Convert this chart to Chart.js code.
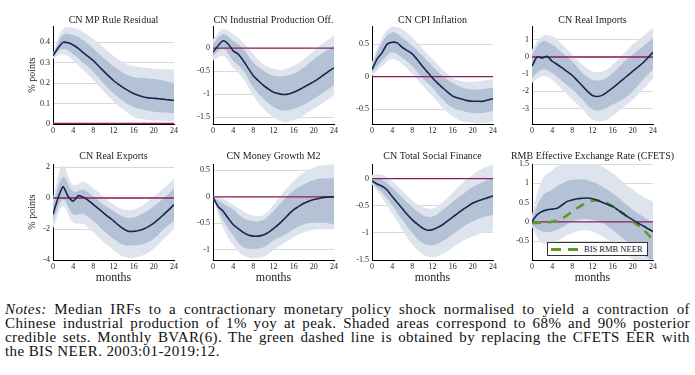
<!DOCTYPE html>
<html>
<head>
<meta charset="utf-8">
<script src="https://cdn.jsdelivr.net/npm/chart.js@4.4.1/dist/chart.umd.min.js"></script>
<style>
  html, body { margin: 0; padding: 0; background: #fff; }
  body { width: 695px; height: 375px; position: relative; overflow: hidden; }
  canvas { position: absolute; }
  #notes { position: absolute; left: 5px; top: 302px; width: 685px; font-family: 'Liberation Serif', serif; font-size: 15px; letter-spacing: 0.4px; line-height: 14px; color: #111; }
  #notes div { text-align: justify; text-align-last: justify; white-space: nowrap; }
  #notes div.last { text-align-last: left; }
  #legend { position: absolute; left: 547px; top: 242px; width: 101px; height: 14px; box-sizing: border-box; border: 1px solid #333; background: #fff; }
  #legend .dash { position: absolute; top: 5px; height: 3px; width: 10px; background: #5c9a24; }
  #legend .lbl { position: absolute; left: 36px; top: 1px; font-family: 'Liberation Serif', serif; font-size: 8.5px; line-height: 10px; color: #222; }
</style>
</head>
<body>
<canvas id="p1"></canvas>
<canvas id="p2"></canvas>
<canvas id="p3"></canvas>
<canvas id="p4"></canvas>
<canvas id="p5"></canvas>
<canvas id="p6"></canvas>
<canvas id="p7"></canvas>
<canvas id="p8"></canvas>
<div id="legend"><span class="dash" style="left:3px"></span><span class="dash" style="left:20px"></span><span class="lbl">BIS RMB NEER</span></div>
<div id="notes">
  <div><i>Notes:</i> Median IRFs to a contractionary monetary policy shock normalised to yield a contraction of</div>
  <div>Chinese industrial production of 1% yoy at peak. Shaded areas correspond to 68% and 90% posterior</div>
  <div>credible sets. Monthly BVAR(6). The green dashed line is obtained by replacing the CFETS EER with</div>
  <div class="last">the BIS NEER. 2003:01-2019:12.</div>
</div>
<script>
const months = [0, 1, 2, 3, 4, 5, 6, 7, 8, 9, 10, 11, 12, 13, 14, 15, 16, 17, 18, 19, 20, 21, 22, 23, 24];
const bandMonths = [0, 2, 4, 6, 8, 10, 12, 14, 16, 18, 20, 22, 24];

// CN MP Rule Residual
const mpMed = [0.334, 0.372, 0.40, 0.398, 0.387, 0.37, 0.35, 0.33, 0.31, 0.285, 0.26, 0.236, 0.213, 0.194, 0.177, 0.162, 0.149, 0.14, 0.132, 0.128, 0.126, 0.124, 0.121, 0.118, 0.116];
const mpHi90 = [0.345, 0.466, 0.47, 0.45, 0.416, 0.375, 0.334, 0.30, 0.284, 0.276, 0.271, 0.268, 0.27];
const mpHi68 = [0.34, 0.436, 0.436, 0.41, 0.37, 0.325, 0.284, 0.25, 0.23, 0.225, 0.22, 0.212, 0.20];
const mpLo68 = [0.33, 0.367, 0.342, 0.30, 0.255, 0.20, 0.152, 0.11, 0.083, 0.07, 0.06, 0.056, 0.053];
const mpLo90 = [0.32, 0.342, 0.31, 0.264, 0.215, 0.16, 0.11, 0.07, 0.036, 0.023, 0.017, 0.015, 0.012];

// CN Industrial Production Off.
const ipMed = [-0.09, 0.05, 0.16, 0.09, -0.06, -0.13, -0.27, -0.44, -0.6, -0.71, -0.81, -0.89, -0.96, -0.99, -1.01, -1.0, -0.96, -0.91, -0.85, -0.79, -0.73, -0.66, -0.58, -0.5, -0.43];
const ipHi90 = [0.19, 0.41, 0.30, 0.12, -0.13, -0.35, -0.45, -0.47, -0.38, -0.24, -0.06, 0.12, 0.27];
const ipHi68 = [0.09, 0.30, 0.16, -0.02, -0.31, -0.49, -0.60, -0.61, -0.56, -0.42, -0.24, -0.09, 0.05];
const ipLo68 = [-0.17, -0.02, -0.27, -0.49, -0.85, -1.10, -1.28, -1.36, -1.32, -1.23, -1.10, -0.96, -0.81];
const ipLo90 = [-0.27, -0.17, -0.42, -0.67, -1.03, -1.32, -1.50, -1.61, -1.57, -1.46, -1.32, -1.18, -1.03];

// CN CPI Inflation
const cpiMed = [0.11, 0.27, 0.37, 0.5, 0.53, 0.52, 0.45, 0.4, 0.35, 0.26, 0.16, 0.07, -0.02, -0.1, -0.17, -0.24, -0.3, -0.33, -0.35, -0.37, -0.38, -0.38, -0.38, -0.36, -0.34];
const cpiHi90 = [0.22, 0.60, 0.77, 0.73, 0.60, 0.43, 0.27, 0.11, -0.02, -0.07, -0.08, -0.06, -0.04];
const cpiHi68 = [0.16, 0.53, 0.68, 0.60, 0.47, 0.32, 0.16, 0.01, -0.10, -0.17, -0.20, -0.19, -0.17];
const cpiLo68 = [0.06, 0.24, 0.37, 0.29, 0.16, -0.02, -0.17, -0.35, -0.48, -0.53, -0.56, -0.56, -0.53];
const cpiLo90 = [0.01, 0.16, 0.27, 0.19, 0.04, -0.14, -0.30, -0.48, -0.61, -0.69, -0.71, -0.72, -0.69];

// CN Real Imports
const impMed = [-0.54, 0.0, -0.06, 0.04, -0.25, -0.44, -0.64, -0.86, -1.08, -1.38, -1.68, -2.0, -2.24, -2.3, -2.22, -2.02, -1.8, -1.56, -1.32, -1.07, -0.83, -0.59, -0.35, -0.05, 0.27];
const impHi90 = [0.43, 1.2, 1.2, 0.72, 0.14, -0.44, -0.83, -0.83, -0.44, 0.14, 0.72, 1.2, 1.68];
const impHi68 = [0.14, 0.9, 0.72, 0.23, -0.25, -0.93, -1.32, -1.32, -0.93, -0.35, 0.14, 0.62, 1.1];
const impLo68 = [-1.22, -0.74, -0.93, -1.41, -1.9, -2.48, -3.06, -3.06, -2.77, -2.48, -1.99, -1.32, -0.75];
const impLo90 = [-1.5, -1.12, -1.32, -1.9, -2.48, -3.06, -3.64, -3.73, -3.44, -2.96, -2.48, -1.9, -1.25];

// CN Real Exports
const expMed = [-1.05, 0.0, 0.74, 0.1, -0.21, 0.15, 0.06, -0.15, -0.42, -0.68, -0.95, -1.22, -1.47, -1.75, -2.0, -2.15, -2.15, -2.1, -2.0, -1.83, -1.62, -1.35, -1.05, -0.75, -0.42];
const expHi90 = [0.0, 2.1, 0.84, 1.05, 0.63, 0.1, -0.42, -0.74, -0.74, -0.42, 0.1, 0.63, 1.26];
const expHi68 = [-0.42, 1.37, 0.42, 0.53, 0.1, -0.42, -0.84, -1.2, -1.26, -0.95, -0.53, 0.0, 0.63];
const expLo68 = [-1.47, -0.1, -1.05, -1.05, -1.47, -2.1, -2.63, -3.01, -3.05, -2.95, -2.63, -2.0, -1.47];
const expLo90 = [-1.96, -0.53, -1.58, -1.68, -2.21, -2.84, -3.37, -3.79, -3.85, -3.68, -3.26, -2.63, -2.0];

// CN Money Growth M2
const m2Med = [-0.01, -0.18, -0.27, -0.4, -0.52, -0.6, -0.67, -0.72, -0.74, -0.74, -0.72, -0.67, -0.6, -0.52, -0.43, -0.33, -0.24, -0.18, -0.12, -0.08, -0.05, -0.03, -0.01, 0.0, 0.0];
const m2Hi90 = [0.01, -0.03, -0.15, -0.27, -0.35, -0.34, -0.15, 0.09, 0.30, 0.46, 0.55, 0.60, 0.61];
const m2Hi68 = [0.0, -0.12, -0.24, -0.40, -0.46, -0.43, -0.27, -0.06, 0.12, 0.24, 0.32, 0.35, 0.35];
const m2Lo68 = [-0.01, -0.43, -0.73, -0.95, -0.98, -0.95, -0.82, -0.73, -0.61, -0.52, -0.49, -0.49, -0.52];
const m2Lo90 = [-0.02, -0.58, -0.91, -1.10, -1.16, -1.13, -1.0, -0.88, -0.76, -0.67, -0.62, -0.61, -0.61];

// CN Total Social Finance
const tsfMed = [-0.04, -0.1, -0.14, -0.21, -0.33, -0.44, -0.55, -0.66, -0.76, -0.84, -0.91, -0.95, -0.94, -0.9, -0.85, -0.78, -0.71, -0.64, -0.57, -0.51, -0.45, -0.41, -0.38, -0.35, -0.32];
const tsfHi90 = [0.07, 0.07, -0.05, -0.23, -0.40, -0.52, -0.55, -0.43, -0.26, -0.08, 0.07, 0.19, 0.26];
const tsfHi68 = [0.01, -0.02, -0.17, -0.35, -0.52, -0.67, -0.70, -0.58, -0.43, -0.29, -0.15, -0.06, 0.01];
const tsfLo68 = [-0.08, -0.26, -0.49, -0.76, -1.0, -1.18, -1.23, -1.15, -1.03, -0.89, -0.79, -0.71, -0.67];
const tsfLo90 = [-0.11, -0.35, -0.64, -0.94, -1.21, -1.39, -1.45, -1.39, -1.27, -1.15, -1.06, -1.0, -0.97];

// RMB Effective Exchange Rate (CFETS)
const eerMed = [0.01, 0.18, 0.27, 0.31, 0.33, 0.35, 0.44, 0.53, 0.57, 0.6, 0.61, 0.62, 0.6, 0.56, 0.5, 0.45, 0.4, 0.31, 0.22, 0.13, 0.05, -0.03, -0.1, -0.18, -0.25];
const eerHi90 = [0.18, 1.09, 1.34, 1.52, 1.59, 1.6, 1.56, 1.43, 1.26, 1.04, 0.83, 0.66, 0.53];
const eerHi68 = [0.09, 0.66, 0.83, 1.0, 1.09, 1.1, 1.04, 0.91, 0.74, 0.53, 0.31, 0.14, -0.03];
const eerLo68 = [-0.08, -0.25, -0.25, -0.14, 0.01, 0.07, 0.05, -0.03, -0.21, -0.42, -0.64, -0.85, -1.03];
const eerLo90 = [-0.14, -0.55, -0.55, -0.42, -0.29, -0.22, -0.25, -0.38, -0.55, -0.77, -0.98, -1.16, -1.33];
const bisNeer = [-0.03, -0.02, 0.0, 0.09, 0.27, 0.44, 0.55, 0.53, 0.4, 0.22, 0.01, -0.19, -0.47];

const xTicks = [0, 4, 8, 12, 16, 20, 24];

const OUTER = "#dee4ed";
const INNER = "#b5c2d6";
const NAVY = "#16264d";
const ZERO = "#8c1d5e";
const GREEN = "#5c9a24";

Chart.defaults.font.family = "'Liberation Serif', serif";
Chart.defaults.color = "#222";

const pts = (xs, ys) => ys.map((y, i) => ({ x: xs[i], y: y }));

const panels = [
  { id: "p1", title: "CN MP Rule Residual", med: mpMed, hi90: mpHi90, hi68: mpHi68, lo68: mpLo68, lo90: mpLo90,
    yMin: 0, yMax: 0.48, yTicks: [0, 0.1, 0.2, 0.3, 0.4], left: 53, top: 26, h: 98, row: 1, ylabel: true, zeroW: 2.5 },
  { id: "p2", title: "CN Industrial Production Off.", med: ipMed, hi90: ipHi90, hi68: ipHi68, lo68: ipLo68, lo90: ipLo90,
    yMin: -1.65, yMax: 0.48, yTicks: [-1.5, -1, -0.5, 0], left: 213, top: 26, h: 98, row: 1 },
  { id: "p3", title: "CN CPI Inflation", med: cpiMed, hi90: cpiHi90, hi68: cpiHi68, lo68: cpiLo68, lo90: cpiLo90,
    yMin: -0.73, yMax: 0.78, yTicks: [-0.5, 0, 0.5], left: 372, top: 26, h: 98, row: 1 },
  { id: "p4", title: "CN Real Imports", med: impMed, hi90: impHi90, hi68: impHi68, lo68: impLo68, lo90: impLo90,
    yMin: -3.9, yMax: 1.8, yTicks: [-3, -2, -1, 0, 1], left: 532, top: 26, h: 98, row: 1 },
  { id: "p5", title: "CN Real Exports", med: expMed, hi90: expHi90, hi68: expHi68, lo68: expLo68, lo90: expLo90,
    yMin: -4, yMax: 2.2, yTicks: [-4, -2, 0, 2], left: 53, top: 164, h: 96, row: 2, ylabel: true },
  { id: "p6", title: "CN Money Growth M2", med: m2Med, hi90: m2Hi90, hi68: m2Hi68, lo68: m2Lo68, lo90: m2Lo90,
    yMin: -1.19, yMax: 0.62, yTicks: [-1, -0.5, 0, 0.5], left: 213, top: 164, h: 96, row: 2 },
  { id: "p7", title: "CN Total Social Finance", med: tsfMed, hi90: tsfHi90, hi68: tsfHi68, lo68: tsfLo68, lo90: tsfLo90,
    yMin: -1.5, yMax: 0.27, yTicks: [-1.5, -1, -0.5, 0], left: 372, top: 164, h: 96, row: 2 },
  { id: "p8", title: "RMB Effective Exchange Rate (CFETS)", med: eerMed, hi90: eerHi90, hi68: eerHi68, lo68: eerLo68, lo90: eerLo90,
    yMin: -0.99, yMax: 1.5, yTicks: [-0.5, 0, 0.5, 1, 1.5], left: 532, top: 164, h: 96, row: 2, extra: bisNeer }
];

const SIDE = 45, PLOTW = 121, HEAD = 26;

function drawPanel(p) {
  const xH = p.row === 2 ? 26 : 18;
  const canvas = document.getElementById(p.id);
  canvas.width = SIDE * 2 + PLOTW;
  canvas.height = HEAD + p.h + xH;
  canvas.style.left = (p.left - SIDE) + "px";
  canvas.style.top = (p.top - HEAD) + "px";

  const band = { pointRadius: 0, borderWidth: 0, tension: 0.4 };
  const datasets = [
    { data: pts(months, p.med), borderColor: NAVY, borderWidth: 1.6, pointRadius: 0, tension: 0.2, fill: false, order: 0 }
  ];
  if (p.extra) {
    datasets.push({ data: pts(bandMonths, p.extra), borderColor: GREEN, borderWidth: 2.6, borderDash: [9, 7],
      pointRadius: 0, tension: 0.3, fill: false, order: 0 });
  }
  datasets.push({ data: pts([0, 24], [0, 0]), borderColor: ZERO, borderWidth: p.zeroW || 1.4, pointRadius: 0, fill: false, order: 1 });
  datasets.push(Object.assign({ data: pts(bandMonths, p.hi68), backgroundColor: INNER, fill: "+1", order: 2 }, band));
  datasets.push(Object.assign({ data: pts(bandMonths, p.lo68), fill: false, order: 2 }, band));
  datasets.push(Object.assign({ data: pts(bandMonths, p.hi90), backgroundColor: OUTER, fill: "+1", order: 3 }, band));
  datasets.push(Object.assign({ data: pts(bandMonths, p.lo90), fill: false, order: 3 }, band));

  new Chart(canvas, {
    type: "line",
    data: { datasets: datasets },
    options: {
      responsive: false,
      animation: false,
      devicePixelRatio: 1,
      events: [],
      layout: { padding: 0 },
      plugins: {
        legend: { display: false },
        tooltip: { enabled: false },
        title: {
          display: true,
          text: p.title,
          font: { size: 10, weight: "normal" },
          color: "#222",
          padding: p.row === 2 ? { top: 12, bottom: 2 } : { top: 14, bottom: 0 }
        }
      },
      scales: {
        x: {
          type: "linear",
          min: 0,
          max: 24,
          afterBuildTicks: (s) => { s.ticks = xTicks.map((v) => ({ value: v })); },
          ticks: { font: { size: 8 }, padding: 2, maxRotation: 0 },
          grid: { display: false, drawTicks: false },
          border: { color: "#000", width: 1 },
          title: { display: p.row === 2, text: "months", font: { size: 12 }, padding: { top: 0, bottom: 1 } },
          afterFit: (s) => { s.height = xH; }
        },
        y: {
          position: "left",
          min: p.yMin,
          max: p.yMax,
          afterBuildTicks: (s) => { s.ticks = p.yTicks.map((v) => ({ value: v })); },
          ticks: { font: { size: 8 }, padding: 3, callback: (v) => String(v) },
          grid: { color: "#d9d9d9", drawTicks: false },
          border: { color: "#000", width: 1 },
          title: { display: !!p.ylabel, text: "% points", font: { size: 10 }, padding: { top: 18, bottom: 0 } },
          afterFit: (s) => { s.width = SIDE; }
        },
        y2: {
          position: "right",
          display: true,
          ticks: { display: false },
          grid: { display: false, drawTicks: false },
          border: { display: false },
          afterFit: (s) => { s.width = SIDE; }
        }
      }
    }
  });
}

panels.forEach(drawPanel);
</script>
</body>
</html>
